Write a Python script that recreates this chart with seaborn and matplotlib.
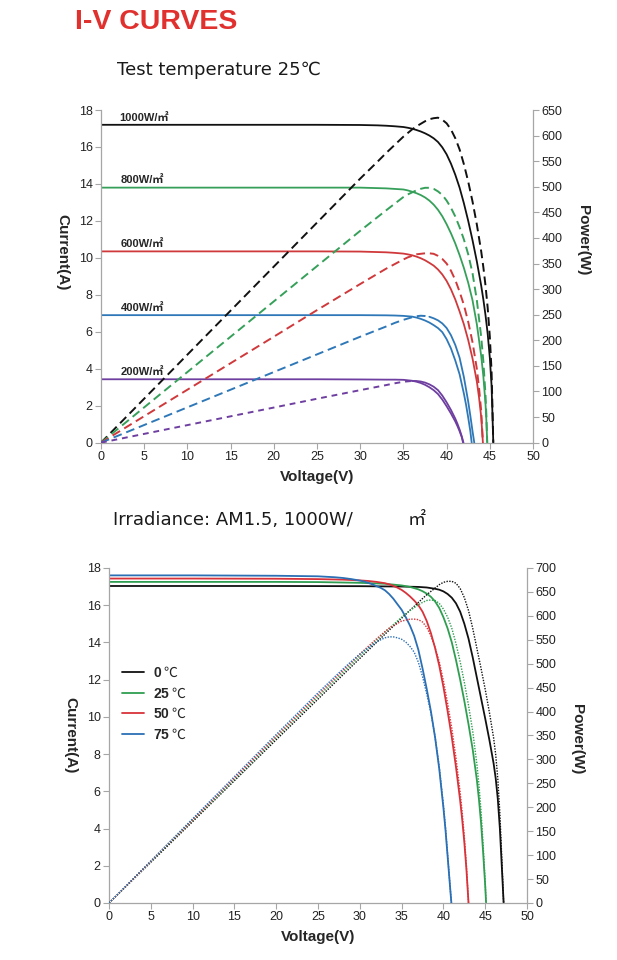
import seaborn as sns
import matplotlib.pyplot as plt
from matplotlib.font_manager import FontProperties

# ---- grafico de cima: 25 C, varias irradiancias ----
v_1000 = [0, 10, 20, 25, 30, 32, 33, 34, 35, 35.5, 36, 36.5, 37, 37.5, 38, 38.5, 39, 39.5, 40, 40.5,
          41, 41.5, 42, 42.5, 43, 43.5, 44, 44.25, 44.5, 44.75, 45, 45.2, 45.3, 45.4]
i_1000 = [17.2, 17.2, 17.2, 17.2, 17.19, 17.17, 17.15, 17.12, 17.08, 17.04, 16.99, 16.92, 16.84, 16.74,
          16.62, 16.47, 16.27, 15.98, 15.6, 15.1, 14.5, 13.8, 12.95, 12.0, 10.95, 9.8, 8.5, 7.75, 6.9,
          5.9, 4.6, 3.1, 1.6, 0]
p_1000 = [0, 172, 344, 430, 516, 549, 566, 582, 598, 605, 612, 618, 623, 628, 632, 634, 635, 631, 624,
          612, 595, 573, 544, 510, 471, 426, 374, 343, 307, 264, 207, 140, 72, 0]

v_800 = [0, 10, 20, 25, 30, 33, 34, 35, 35.5, 36, 36.5, 37, 37.5, 38, 38.5, 39, 39.5, 40, 40.5, 41,
         41.5, 42, 42.5, 43, 43.5, 44, 44.25, 44.5, 44.6, 44.7]
i_800 = [13.8, 13.8, 13.8, 13.8, 13.8, 13.76, 13.73, 13.7, 13.65, 13.58, 13.5, 13.4, 13.27, 13.1, 12.88,
         12.6, 12.25, 11.82, 11.33, 10.78, 10.15, 9.45, 8.65, 7.7, 6.4, 4.7, 3.6, 2.1, 1.2, 0]
p_800 = [0, 138, 276, 345, 414, 454, 467, 480, 485, 489, 493, 496, 498, 498, 496, 491, 484, 473, 459,
         442, 421, 397, 368, 331, 278, 207, 159, 93, 54, 0]

v_600 = [0, 10, 20, 25, 30, 33, 34, 35, 35.5, 36, 36.5, 37, 37.5, 38, 38.5, 39, 39.5, 40, 40.5, 41,
         41.5, 42, 42.5, 43, 43.5, 43.75, 44, 44.2]
i_600 = [10.35, 10.35, 10.35, 10.35, 10.34, 10.3, 10.27, 10.23, 10.19, 10.14, 10.07, 9.98, 9.87, 9.73,
         9.58, 9.37, 9.1, 8.75, 8.3, 7.75, 7.1, 6.4, 5.55, 4.55, 3.3, 2.45, 1.4, 0]
p_600 = [0, 103.5, 207, 259, 310, 340, 349, 358, 362, 365, 368, 369, 370, 370, 369, 365, 359, 350, 336,
         318, 295, 269, 236, 196, 144, 107, 62, 0]

v_400 = [0, 10, 20, 25, 30, 33, 34, 35, 36, 36.5, 37, 37.5, 38, 38.5, 39, 39.5, 40, 40.5, 41, 41.5,
         42, 42.25, 42.5, 42.75, 42.9]
i_400 = [6.9, 6.9, 6.9, 6.9, 6.9, 6.89, 6.88, 6.86, 6.82, 6.77, 6.7, 6.61, 6.5, 6.36, 6.2, 5.98, 5.6,
         5.1, 4.45, 3.7, 2.65, 2.05, 1.35, 0.6, 0]
vp_400 = [0, 10, 20, 25, 30, 33, 34, 35, 36, 36.5, 37, 37.5, 38, 38.5, 39, 39.5, 40, 40.5, 41, 41.5,
          42, 42.5, 42.75, 43, 43.2]
p_400 = [0, 69, 138, 172.5, 207, 227, 234, 240, 245, 247, 248, 247.5, 246, 243, 239, 233, 224, 210, 191,
         166, 128, 80, 52, 22, 0]

v_200 = [0, 10, 20, 25, 30, 33, 34, 35, 36, 36.5, 37, 37.5, 38, 38.5, 39, 39.5, 40, 40.5, 41, 41.25,
         41.5, 41.75, 41.9]
i_200 = [3.43, 3.43, 3.43, 3.43, 3.42, 3.41, 3.41, 3.4, 3.35, 3.3, 3.23, 3.13, 3.0, 2.84, 2.63, 2.33,
         1.97, 1.58, 1.15, 0.9, 0.62, 0.3, 0]
vp_200 = [0, 10, 20, 25, 30, 33, 34, 35, 36, 36.5, 37, 37.5, 38, 38.5, 39, 39.5, 40, 40.5, 41, 41.25,
          41.5, 41.75, 41.95]
p_200 = [0, 34.3, 68.6, 85.8, 102.6, 112.5, 116, 119, 120.6, 120.5, 119.5, 117.4, 114, 109.3, 102.6,
         92, 78.8, 64, 47, 37, 25.7, 12.5, 0]

rotulos_irr = ["1000W/㎡", "800W/㎡", "600W/㎡", "400W/㎡", "200W/㎡"]

# ---- grafico de baixo: 1000 W/m2, varias temperaturas ----
v_t0 = [0, 10, 20, 30, 35, 37, 38, 39, 39.5, 40, 40.5, 41, 41.5, 42, 42.5, 43, 43.5, 44, 44.5, 45,
        45.5, 46, 46.25, 46.5, 46.75, 47, 47.2]
i_t0 = [17.03, 17.03, 17.03, 17.02, 17.0, 16.98, 16.95, 16.88, 16.83, 16.74, 16.6, 16.4, 16.1, 15.65,
        15.0, 14.2, 13.2, 12.1, 11.0, 9.9, 8.75, 7.5, 6.7, 5.6, 4.0, 1.8, 0]
p_t0 = [0, 170, 341, 511, 595, 628, 644, 658, 665, 670, 672, 672, 668, 657, 638, 611, 574, 532, 490,
        446, 398, 345, 310, 260, 187, 85, 0]

v_t25 = [0, 10, 20, 25, 30, 33, 35, 36, 37, 37.5, 38, 38.5, 39, 39.5, 40, 40.5, 41, 41.5, 42, 42.5,
         43, 43.5, 44, 44.25, 44.5, 44.75, 45, 45.1]
i_t25 = [17.25, 17.25, 17.25, 17.24, 17.2, 17.15, 17.06, 16.98, 16.85, 16.75, 16.62, 16.45, 16.2, 15.85,
         15.35, 14.75, 14.0, 13.05, 12.0, 10.85, 9.6, 8.25, 6.6, 5.55, 4.3, 2.7, 0.9, 0]
p_t25 = [0, 172.5, 345, 431, 516, 566, 597, 611, 623, 628, 632, 633, 632, 626, 614, 597, 574, 542, 504,
         461, 413, 359, 290, 246, 191, 121, 40.5, 0]

v_t50 = [0, 10, 20, 25, 28, 30, 31, 32, 33, 33.5, 34, 34.5, 35, 35.5, 36, 36.5, 37, 37.5, 38, 38.5,
         39, 39.5, 40, 40.5, 41, 41.5, 42, 42.25, 42.5, 42.75, 43]
i_t50 = [17.43, 17.43, 17.42, 17.4, 17.37, 17.33, 17.3, 17.25, 17.18, 17.12, 17.04, 16.94, 16.82, 16.66,
         16.47, 16.25, 16.0, 15.65, 15.15, 14.5, 13.7, 12.75, 11.6, 10.3, 8.9, 7.3, 5.5, 4.45, 3.25,
         1.8, 0]
p_t50 = [0, 174, 348, 435, 486, 520, 536, 552, 567, 574, 579, 584, 589, 591, 593, 593, 592, 587, 576,
         558, 534, 504, 464, 417, 365, 303, 231, 188, 138, 77, 0]

v_t75 = [0, 10, 20, 25, 27, 28, 29, 30, 30.5, 31, 31.5, 32, 32.5, 33, 33.5, 34, 34.5, 35, 35.5, 36,
         36.5, 37, 37.5, 38, 38.5, 39, 39.5, 40, 40.25, 40.5, 40.75, 40.95]
i_t75 = [17.6, 17.6, 17.58, 17.55, 17.5, 17.46, 17.4, 17.32, 17.27, 17.2, 17.12, 17.02, 16.93, 16.8,
         16.6, 16.35, 16.05, 15.75, 15.35, 14.9, 14.35, 13.6, 12.6, 11.5, 10.3, 8.9, 7.2, 5.1, 3.9, 2.5,
         1.1, 0]
p_t75 = [0, 176, 352, 439, 472.5, 489, 505, 520, 527, 533, 539, 545, 550, 554, 556, 556, 554, 551, 545,
         536, 524, 503, 473, 437, 397, 347, 284, 204, 157, 101, 45, 0]

temps = ["0", "25", "50", "75"]

COR_EIXO = "#a6a6a6"

sns.set_style("ticks")
plt.rcParams["font.family"] = ["Liberation Sans", "Noto Sans CJK JP", "DejaVu Sans"]
plt.rcParams["mathtext.fontset"] = "custom"
plt.rcParams["mathtext.bf"] = "Liberation Sans:bold"
plt.rcParams["mathtext.rm"] = "Liberation Sans"

fig = plt.figure(figsize=(6.17, 9.6), dpi=100)
ax1 = fig.add_axes([0.1637, 0.5389, 0.7002, 0.3465])
ax1b = ax1.twinx()
ax2 = fig.add_axes([0.1767, 0.0594, 0.6775, 0.349])
ax2b = ax2.twinx()

# curvas de cima
cores_irr = ["#111111", "#36a05a", "#d0393b", "#2f78b8", "#6e3fa0"]
tracos = [(0, (4.5, 2.5))] * 4 + [(0, (3, 2.5))]
correntes = [(v_1000, i_1000), (v_800, i_800), (v_600, i_600), (v_400, i_400), (v_200, i_200)]
potencias = [(v_1000, p_1000), (v_800, p_800), (v_600, p_600), (vp_400, p_400), (vp_200, p_200)]
corte = [None, None, None, 12, 8]  # depois do pico a curva de potencia aparece continua

for k in range(5):
    vv, ii = correntes[k]
    sns.lineplot(x=vv, y=ii, ax=ax1, color=cores_irr[k], linewidth=1.3, estimator=None, sort=False)
    vp, pp = potencias[k]
    if corte[k] is None:
        sns.lineplot(x=vp, y=pp, ax=ax1b, color=cores_irr[k], linewidth=1.4,
                     linestyle=tracos[k], estimator=None, sort=False)
    else:
        c = corte[k]
        sns.lineplot(x=vp[:c + 1], y=pp[:c + 1], ax=ax1b, color=cores_irr[k], linewidth=1.4,
                     linestyle=tracos[k], estimator=None, sort=False)
        sns.lineplot(x=vp[c:], y=pp[c:], ax=ax1b, color=cores_irr[k], linewidth=1.3,
                     estimator=None, sort=False)
    ax1.text(2.3 if k else 2.1, ii[0] + 0.12, rotulos_irr[k], fontsize=8, fontweight="bold",
             va="bottom", ha="left", family=["Liberation Sans", "Noto Sans CJK JP"])

# curvas de baixo
cores_t = ["#111111", "#2f9e50", "#d8333a", "#2b6fb5"]
correntes_t = [(v_t0, i_t0), (v_t25, i_t25), (v_t50, i_t50), (v_t75, i_t75)]
potencias_t = [(v_t0, p_t0), (v_t25, p_t25), (v_t50, p_t50), (v_t75, p_t75)]
linhas = []
for k in range(4):
    vv, ii = correntes_t[k]
    sns.lineplot(x=vv, y=ii, ax=ax2, color=cores_t[k], linewidth=1.3, estimator=None, sort=False)
    linhas.append(ax2.lines[-1])
    vp, pp = potencias_t[k]
    sns.lineplot(x=vp, y=pp, ax=ax2b, color=cores_t[k], linewidth=1.0,
                 linestyle=(0, (1, 1)), estimator=None, sort=False)

ax2.legend(linhas, [r"$\mathbf{%s}$ ℃" % t for t in temps], loc="upper left",
           bbox_to_anchor=(0.0, 0.745), frameon=False, handlelength=1.6, handletextpad=0.7,
           labelspacing=0.45, prop=FontProperties(family=["Noto Sans CJK JP"], size=10))


def estilo(ax, axd, ymax_p, cy, cyd):
    ax.set_xlim(0, 50)
    ax.set_ylim(0, 18)
    axd.set_ylim(0, ymax_p)
    ax.set_xticks(range(0, 51, 5))
    ax.set_yticks(range(0, 19, 2))
    axd.set_yticks(range(0, ymax_p + 1, 50))
    for a in (ax, axd):
        a.tick_params(direction="out", length=4, width=0.8, color=COR_EIXO, labelsize=9,
                      labelcolor="#222222", pad=2)
        for s in a.spines.values():
            s.set_color(COR_EIXO)
            s.set_linewidth(0.9)
        a.spines["top"].set_visible(False)
    ax.spines["right"].set_visible(False)
    axd.spines["left"].set_visible(False)
    axd.spines["bottom"].set_visible(False)
    ax.set_xlabel("Voltage(V)", fontsize=11, fontweight="bold", labelpad=5)
    ax.set_ylabel("Current(A)", fontsize=11, fontweight="bold", rotation=270, va="center", ha="center")
    ax.yaxis.set_label_coords(cy[0], cy[1])
    axd.set_ylabel("Power(W)", fontsize=11, fontweight="bold", rotation=270, va="center", ha="center")
    axd.yaxis.set_label_coords(cyd[0], cyd[1])


estilo(ax1, ax1b, 650, (-0.09, 0.572), (1.116, 0.609))
estilo(ax2, ax2b, 700, (-0.093, 0.5), (1.12, 0.49))

fig.text(0.1216, 0.977, "I-V CURVES", color="#e0312f", fontsize=20.5, fontweight="bold",
         va="center", ha="left", family=["Liberation Sans"])
fig.text(0.1896, 0.9276, "Test temperature 25℃", fontsize=13, va="center", ha="left",
         family=["DejaVu Sans", "Noto Sans CJK JP"], color="#1a1a1a")
fig.text(0.183, 0.458, "Irradiance: AM1.5, 1000W/", fontsize=13, va="center", ha="left",
         family=["DejaVu Sans", "Noto Sans CJK JP"], color="#1a1a1a")
fig.text(0.661, 0.458, "㎡", fontsize=13, va="center", ha="left",
         family=["Noto Sans CJK JP"], color="#1a1a1a")

fig.savefig("out.png", dpi=100)
